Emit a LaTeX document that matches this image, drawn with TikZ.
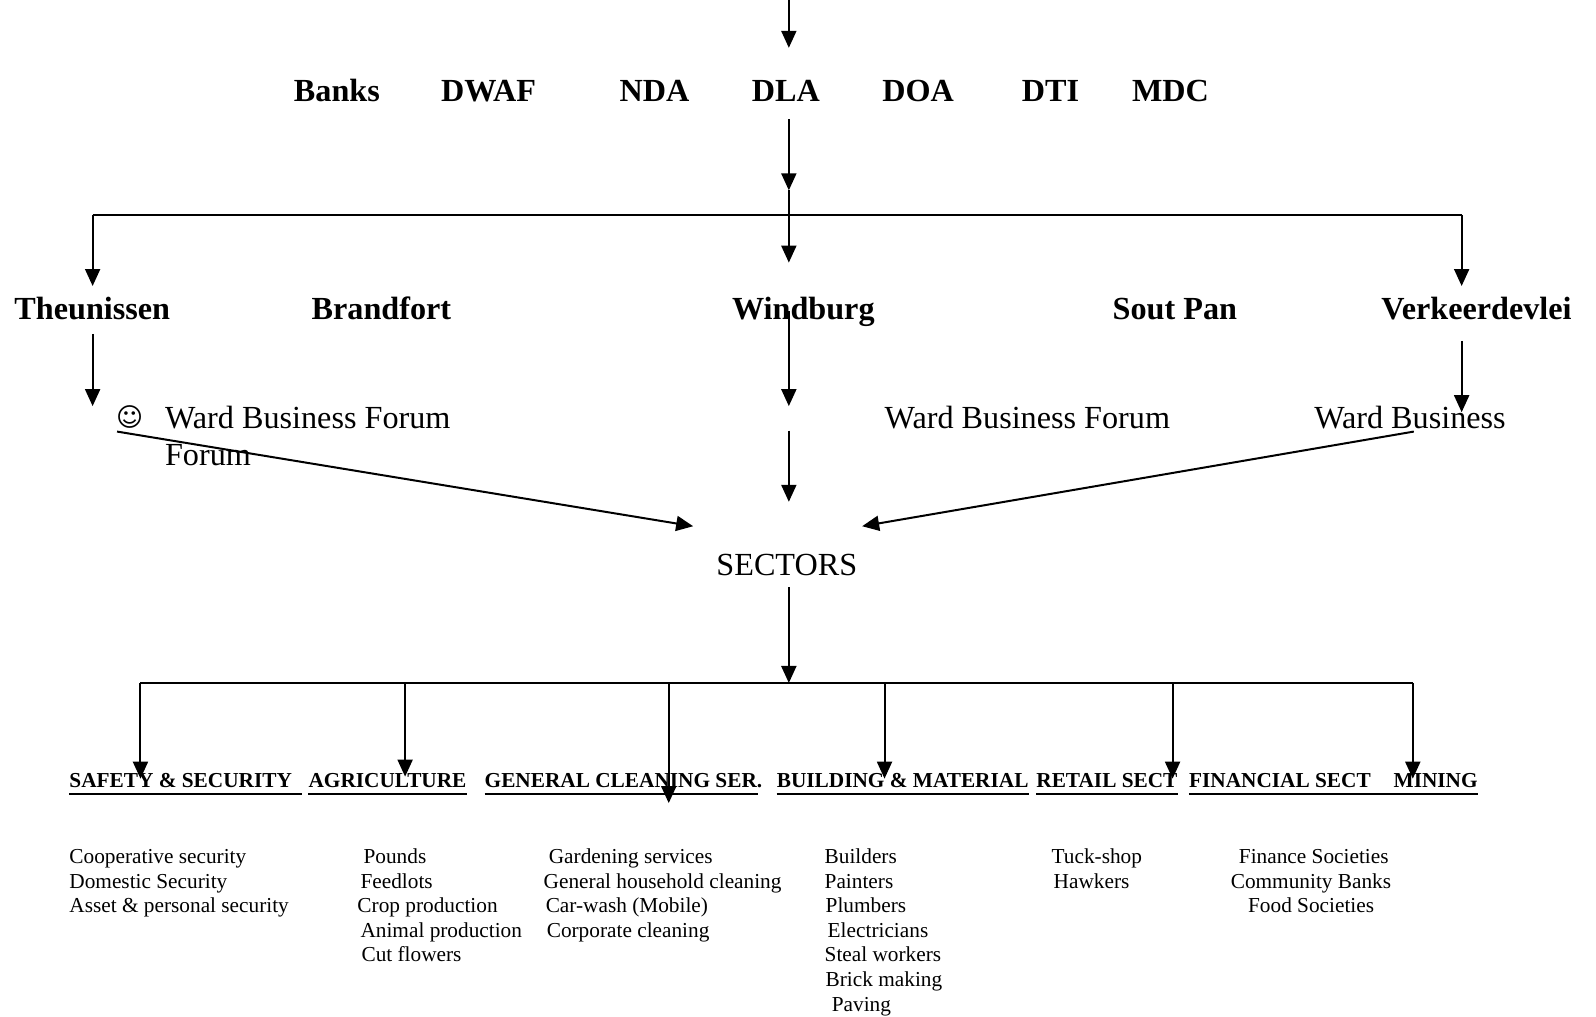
\documentclass[tikz,border=0pt]{standalone}
\usepackage{fontspec}
\setmainfont{Liberation Serif}
\newfontfamily\symfont{DejaVu Sans}
\usetikzlibrary{arrows.meta,calc}
\begin{document}
\begin{tikzpicture}[x=1.01786pt,y=-1.01786pt,
  big/.style={font=\fontsize{32.2}{37}\selectfont\bfseries, inner sep=0pt, anchor=base},
  mid/.style={font=\fontsize{32.2}{37}\selectfont, inner sep=0pt, anchor=base west},
  head/.style={font=\fontsize{21.3}{24}\selectfont\bfseries, inner sep=0pt, anchor=base west},
  item/.style={font=\fontsize{21.3}{24}\selectfont, inner sep=0pt, anchor=base west},
  arr/.style={-{Triangle[width=15pt,length=17pt]}, line width=2pt},
  ln/.style={line width=2pt},
  ul/.style={line width=2.5pt}]
\useasboundingbox (0,0) rectangle (1568,998.2);

% top row
\node[big] (banks) at (331,99.5) {Banks};
\node[big] (dwaf) at (480,99.5) {DWAF};
\node[big] (nda) at (643,99.5) {NDA};
\node[big] (dla) at (772,99.5) {DLA};
\node[big] (doa) at (902,99.5) {DOA};
\node[big] (dti) at (1032,99.5) {DTI};
\node[big] (mdc) at (1150,99.5) {MDC};

% second row
\node[big, anchor=base west] (theu) at (14,313.5) {Theunissen};
\node[big, anchor=base west] (brand) at (306,313.5) {Brandfort};
\node[big, anchor=base west] (wind) at (719,313.5) {Windburg};
\node[big, anchor=base west] (sout) at (1093,313.5) {Sout Pan};
\node[big, anchor=base west] (verk) at (1357,313.5) {Verkeerdevlei};

% ward forums
\node[inner sep=0pt, anchor=base west, font=\symfont\fontsize{26}{30}\selectfont] (smile) at (114,419) {☺};
\node[mid] (wbf1) at (162,421) {Ward Business Forum};
\node[mid] (wbf1b) at (162,457) {Forum};
\node[mid] (wbf2) at (869,421) {Ward Business Forum};
\node[mid] (wbf3) at (1291,421) {Ward Business};

% sectors
\node[mid, anchor=base] (sect) at (773,565) {SECTORS};

% headings
\node[head] (h1) at (68,774) {SAFETY \& SECURITY};
\node[head] (h2) at (303,774) {AGRICULTURE};
\node[head] (h3) at (476,774) {GENERAL CLEANING SER.};
\node[head] (h4) at (763,774) {BUILDING \& MATERIAL};
\node[head] (h5) at (1018,774) {RETAIL SECT};
\node[head] (h6) at (1168,774) {FINANCIAL SECT};
\node[head] (h7) at (1369,774) {MINING};

\draw[ul] ($(h1.base west)+(0,6)$) -- ($(h1.base east)+(10,6)$);
\draw[ul] ($(h2.base west)+(0,6)$) -- ($(h2.base east)+(0,6)$);
\draw[ul] ($(h3.base west)+(0,6)$) -- ($(h3.base east)+(-4,6)$);
\draw[ul] ($(h4.base west)+(0,6)$) -- ($(h4.base east)+(0,6)$);
\draw[ul] ($(h5.base west)+(0,6)$) -- ($(h5.base east)+(0,6)$);
\draw[ul] ($(h6.base west)+(0,6)$) -- ($(h7.base east)+(0,6)$);

% items
\node[item] (a1) at (68,848.5) {Cooperative security};
\node[item] (a2) at (68,872.5) {Domestic Security};
\node[item] (a3) at (68,896.5) {Asset \& personal security};

\node[item] (b1) at (357,848.5) {Pounds};
\node[item] (b2) at (354,872.5) {Feedlots};
\node[item] (b3) at (351,896.5) {Crop production};
\node[item] (b4) at (354,921) {Animal production};
\node[item] (b5) at (355,945) {Cut flowers};

\node[item] (c1) at (539,848.5) {Gardening services};
\node[item] (c2) at (534,872.5) {General household cleaning};
\node[item] (c3) at (536,896.5) {Car-wash (Mobile)};
\node[item] (c4) at (537,921) {Corporate cleaning};

\node[item] (d1) at (810,848.5) {Builders};
\node[item] (d2) at (810,872.5) {Painters};
\node[item] (d3) at (811,896.5) {Plumbers};
\node[item] (d4) at (813,921) {Electricians};
\node[item] (d5) at (810,945) {Steal workers};
\node[item] (d6) at (811,969) {Brick making};
\node[item] (d7) at (817,994) {Paving};

\node[item] (e1) at (1033,848.5) {Tuck-shop};
\node[item] (e2) at (1035,872.5) {Hawkers};

\node[item] (f1) at (1217,848.5) {Finance Societies};
\node[item] (f2) at (1209,872.5) {Community Banks};
\node[item] (f3) at (1226,896.5) {Food Societies};

% coordinates for connectors
\coordinate (top) at (775,0);
\coordinate (topend) at (775,47);
\coordinate (dlaout) at (775,117);
\coordinate (mid1) at (775,187);
\coordinate (mid2) at (775,258);
\coordinate (barL) at (91,211);
\coordinate (barR) at (1436,211);
\coordinate (theuin) at (91,281);
\coordinate (verkin) at (1436,281);
\coordinate (theuout) at (91,328);
\coordinate (theuend) at (91,399);
\coordinate (windout) at (775,306);
\coordinate (windend) at (775,399);
\coordinate (gapstart) at (775,423);
\coordinate (gapend) at (775,493);
\coordinate (verkout) at (1436,335);
\coordinate (verkend) at (1436,405);
\coordinate (lstart) at (115,424);
\coordinate (lend) at (681,517);
\coordinate (rstart) at (1389,424);
\coordinate (rend) at (847,517);
\coordinate (sectout) at (775,577);
\coordinate (bus) at (775,671);
\coordinate (bL) at (138,671);
\coordinate (bR) at (1388,671);
\coordinate (t1) at (138,671);
\coordinate (t2) at (398,671);
\coordinate (t3) at (657,671);
\coordinate (t4) at (869,671);
\coordinate (t5) at (1152,671);
\coordinate (t6) at (1388,671);
\coordinate (e1t) at (138,765);
\coordinate (e2t) at (398,763);
\coordinate (e3t) at (657,789);
\coordinate (e4t) at (869,765);
\coordinate (e5t) at (1152,765);
\coordinate (e6t) at (1388,765);

\draw[arr] (top) -- (topend);
\draw[arr] (dlaout) -- (mid1);
\draw[arr] (mid1) -- (mid2);
\draw[ln] (barL) -- (barR);
\draw[arr] (barL) -- (theuin);
\draw[arr] (barR) -- (verkin);
\draw[arr] (theuout) -- (theuend);
\draw[arr] (windout) -- (windend);
\draw[arr] (gapstart) -- (gapend);
\draw[arr] (verkout) -- (verkend);
\draw[arr] (lstart) -- (lend);
\draw[arr] (rstart) -- (rend);
\draw[arr] (sectout) -- (bus);
\draw[ln] (bL) -- (bR);
\draw[arr] (t1) -- (e1t);
\draw[arr] (t2) -- (e2t);
\draw[arr] (t3) -- (e3t);
\draw[arr] (t4) -- (e4t);
\draw[arr] (t5) -- (e5t);
\draw[arr] (t6) -- (e6t);
\end{tikzpicture}
\end{document}
